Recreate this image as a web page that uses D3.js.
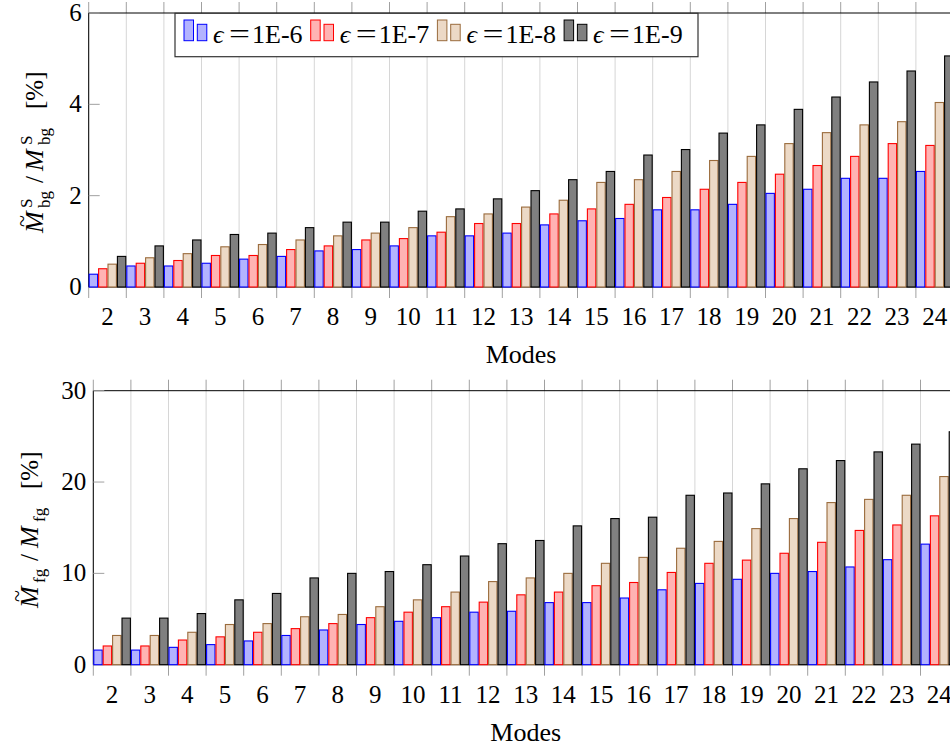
<!DOCTYPE html>
<html>
<head>
<meta charset="utf-8">
<script src="https://cdn.jsdelivr.net/npm/d3@7"></script>
<style>
  body { margin: 0; background: #fff; }
  svg { display: block; font-family: "Liberation Serif", "DejaVu Serif", serif; }
</style>
</head>
<body>
<svg id="chart" width="950" height="746"></svg>
<script>
var modes = ['2','3','4','5','6','7','8','9','10','11','12','13','14','15','16','17','18','19','20','21','22','23','24'];
var seriesNames = ['1E-6', '1E-7', '1E-8', '1E-9'];

// background mass error, percent
var bg1e6 = [0.28,0.46,0.46,0.52,0.61,0.67,0.79,0.82,0.90,1.12,1.12,1.18,1.36,1.45,1.50,1.69,1.69,1.81,2.05,2.14,2.38,2.38,2.53];
var bg1e7 = [0.40,0.52,0.58,0.69,0.69,0.82,0.90,1.03,1.06,1.20,1.39,1.39,1.60,1.71,1.81,1.96,2.14,2.29,2.47,2.66,2.86,3.14,3.10];
var bg1e8 = [0.50,0.64,0.73,0.88,0.93,1.03,1.12,1.18,1.30,1.54,1.60,1.75,1.90,2.29,2.35,2.53,2.77,2.86,3.14,3.38,3.55,3.62,4.04];
var bg1e9 = [0.67,0.90,1.03,1.15,1.18,1.30,1.42,1.42,1.66,1.71,1.93,2.11,2.35,2.53,2.89,3.01,3.37,3.55,3.89,4.16,4.49,4.73,5.06];

// foreground mass error, percent
var fg1e6 = [1.6,1.6,1.9,2.2,2.6,3.2,3.8,4.4,4.75,5.15,5.75,5.85,6.8,6.8,7.3,8.2,8.9,9.35,10.0,10.2,10.7,11.5,13.2];
var fg1e7 = [2.05,2.05,2.7,3.05,3.55,3.95,4.5,5.15,5.75,6.35,6.85,7.65,7.95,8.65,9.0,10.1,11.1,11.45,12.2,13.4,14.7,15.3,16.3];
var fg1e8 = [3.2,3.2,3.55,4.4,4.5,5.25,5.5,6.35,7.1,7.95,9.1,9.5,10.0,11.1,11.75,12.75,13.5,14.9,16.0,17.75,18.1,18.55,20.6];
var fg1e9 = [5.1,5.1,5.6,7.1,7.8,9.5,10.0,10.2,10.95,11.9,13.25,13.6,15.2,16.0,16.15,18.55,18.8,19.8,21.45,22.35,23.3,24.15,25.5];

var bgTicks = [0, 2, 4, 6];
var fgTicks = [0, 10, 20, 30];

var fills = ['#b3b3ff', '#ffb3b3', '#ecd9c6', '#808080'];
var strokes = ['#0000ff', '#ff0000', '#9a6b3c', '#000000'];

var svg = d3.select('#chart');
var bandW = 37.6;

function panel(opts) {
  var x0 = opts.left, top = opts.top, zero = opts.zero;
  var x = d3.scaleBand().domain(modes).range([x0, x0 + modes.length * bandW]).padding(0);
  var xs = d3.scaleBand().domain(d3.range(4)).range([0, x.bandwidth()]).padding(0);
  var y = d3.scaleLinear().domain([0, opts.max]).range([zero, top]);
  var g = svg.append('g');

  // grid and x ticks at band edges
  var edges = modes.map(function (m) { return x(m); });
  g.selectAll('.grid').data(edges).enter().append('line')
      .attr('x1', function (d) { return d; }).attr('x2', function (d) { return d; })
      .attr('y1', top).attr('y2', zero)
      .attr('stroke', '#d6d6d6').attr('stroke-width', 1);
  g.selectAll('.tk').data(edges).enter().append('path')
      .attr('d', function (d) { return 'M' + d + ',' + (top - 11) + 'V' + top + 'M' + d + ',' + zero + 'V' + (zero + 11); })
      .attr('stroke', '#a0a0a0').attr('stroke-width', 1);

  // frame: left + top
  g.append('line').attr('x1', x0).attr('x2', x0).attr('y1', top).attr('y2', zero).attr('stroke', '#000');
  g.append('line').attr('x1', x0).attr('x2', 960).attr('y1', top).attr('y2', top).attr('stroke', '#000');
  g.append('line').attr('x1', x0).attr('x2', 960).attr('y1', zero).attr('y2', zero).attr('stroke', '#000');

  // y ticks
  g.selectAll('.yt').data(opts.ticks).enter().append('line')
      .attr('x1', x0).attr('x2', x0 + 11)
      .attr('y1', function (d) { return y(d); }).attr('y2', function (d) { return y(d); })
      .attr('stroke', '#a0a0a0');
  g.selectAll('.yl').data(opts.ticks).enter().append('text')
      .attr('x', x0 - 7).attr('y', function (d) { return y(d) + 8; })
      .attr('text-anchor', 'end').attr('font-size', 25)
      .text(function (d) { return d; });

  // bars
  var grp = g.selectAll('.grp').data(modes).enter().append('g')
      .attr('transform', function (d) { return 'translate(' + x(d) + ',0)'; });
  grp.selectAll('rect')
      .data(function (d, i) { return opts.series.map(function (s, k) { return {k: k, v: s[i]}; }); })
    .enter().append('rect')
      .attr('x', function (d) { return xs(d.k) + 0.5; })
      .attr('width', xs.bandwidth() - 1)
      .attr('y', function (d) { return y(d.v); })
      .attr('height', function (d) { return zero - y(d.v); })
      .attr('fill', function (d) { return fills[d.k]; })
      .attr('stroke', function (d) { return strokes[d.k]; })
      .attr('stroke-width', 1.1);

  // x labels
  g.selectAll('.xl').data(modes).enter().append('text')
      .attr('x', function (d) { return x(d) + x.bandwidth() / 2; })
      .attr('y', zero + 38)
      .attr('text-anchor', 'middle').attr('font-size', 25)
      .text(function (d) { return d; });
  g.append('text')
      .attr('x', (x.range()[0] + x.range()[1]) / 2).attr('y', zero + 76)
      .attr('text-anchor', 'middle').attr('font-size', 26)
      .text('Modes');

  // y label: pieces at offsets along the rotated baseline
  var lab = g.append('g')
      .attr('transform', 'translate(' + opts.labelX + ',' + opts.labelY + ') rotate(-90)');
  opts.label.forEach(function (p) {
    lab.append('text')
        .attr('x', p.at).attr('y', p.dy || 0)
        .attr('font-size', p.size || 25)
        .attr('font-style', p.italic ? 'italic' : 'normal')
        .text(p.t);
    if (p.tilde) {
      lab.append('text').attr('x', p.at + 12).attr('y', -14)
          .attr('text-anchor', 'middle').attr('font-size', 22).text('~');
    }
  });
}

panel({
  left: 88.7, top: 13, zero: 287, max: 6, ticks: bgTicks,
  series: [bg1e6, bg1e7, bg1e8, bg1e9],
  labelX: 43, labelY: 231,
  label: [
    {t: 'M', italic: true, tilde: true, at: -2, size: 26},
    {t: 'S', size: 17, dy: -11, at: 23},
    {t: 'bg', size: 17, dy: 7, at: 23},
    {t: '/', at: 48},
    {t: 'M', italic: true, at: 60, size: 26},
    {t: 'S', size: 17, dy: -11, at: 86},
    {t: 'bg', size: 17, dy: 7, at: 86},
    {t: '[%]', at: 122}
  ]
});

panel({
  left: 93.3, top: 390.7, zero: 664.7, max: 30, ticks: fgTicks,
  series: [fg1e6, fg1e7, fg1e8, fg1e9],
  labelX: 38, labelY: 606,
  label: [
    {t: 'M', italic: true, tilde: true, at: -2, size: 26},
    {t: 'fg', size: 17, dy: 7, at: 23},
    {t: '/', at: 45},
    {t: 'M', italic: true, at: 58, size: 26},
    {t: 'fg', size: 17, dy: 7, at: 84},
    {t: '[%]', at: 117}
  ]
});

// legend
var leg = svg.append('g');
leg.append('rect').attr('x', 175).attr('y', 13.3).attr('width', 523).attr('height', 43.4)
    .attr('fill', '#fff').attr('stroke', '#333').attr('stroke-width', 1.2);
var item = leg.selectAll('.item').data(seriesNames).enter().append('g')
    .attr('transform', function (d, i) { return 'translate(' + (184 + i * 126.7) + ',0)'; });
item.append('rect').attr('x', 0).attr('y', 20).attr('width', 9.5).attr('height', 20.7)
    .attr('fill', function (d, i) { return fills[i]; }).attr('stroke', function (d, i) { return strokes[i]; });
item.append('rect').attr('x', 13.3).attr('y', 24.3).attr('width', 9.5).attr('height', 16.4)
    .attr('fill', function (d, i) { return fills[i]; }).attr('stroke', function (d, i) { return strokes[i]; });
item.append('text').attr('x', 29).attr('y', 43.3).attr('font-size', 26)
    .attr('font-style', 'italic').text('\u03f5');
item.append('text').attr('x', 45).attr('y', 42.5).attr('font-size', 28)
    .attr('textLength', 21).attr('lengthAdjust', 'spacingAndGlyphs').text('=');
item.append('text').attr('x', 68).attr('y', 43.3).attr('font-size', 26)
    .text(function (d) { return d; });
</script>
</body>
</html>
